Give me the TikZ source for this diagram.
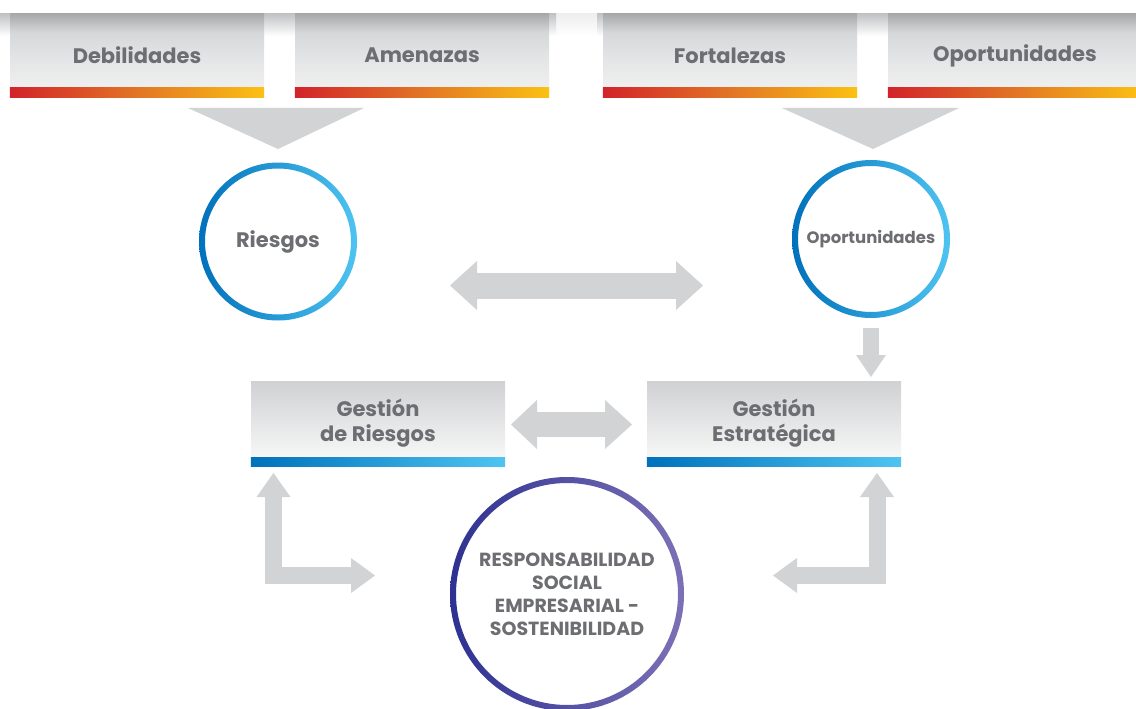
\documentclass[tikz,border=0pt]{standalone}
\usepackage{fontspec}
\setmainfont{Poppins}
\usetikzlibrary{arrows.meta,calc}
\definecolor{txt}{HTML}{6D6E71}
\definecolor{arr}{HTML}{D1D3D4}
\definecolor{red1}{HTML}{D2232A}
\definecolor{org1}{HTML}{E27525}
\definecolor{yel1}{HTML}{FBC113}
\definecolor{blu1}{HTML}{0071BB}
\definecolor{blu2}{HTML}{4FC4F1}
\definecolor{pur1}{HTML}{2E3192}
\definecolor{pur2}{HTML}{7C71B6}
\definecolor{tb0}{HTML}{F3F3F3}
\definecolor{tb1}{HTML}{E3E4E5}
\definecolor{tb2}{HTML}{D6D7D8}
\definecolor{tb3}{HTML}{A8A9AB}
\definecolor{sh1}{HTML}{C2C3C5}
\definecolor{sh2}{HTML}{EEEEEE}
\definecolor{lb0}{HTML}{FBFBFB}
\definecolor{lb1}{HTML}{D0D1D3}
\pgfdeclareverticalshading{topboxshade}{100bp}{color(0bp)=(tb0);color(25bp)=(tb0);color(49bp)=(tb1);color(64bp)=(tb2);color(75bp)=(tb3);color(100bp)=(tb3)}
\pgfdeclareverticalshading{shadowband}{100bp}{color(0bp)=(white);color(25bp)=(white);color(75bp)=(sh1);color(100bp)=(sh1)}
\pgfdeclareverticalshading{faintband}{100bp}{color(0bp)=(white);color(25bp)=(white);color(75bp)=(sh2);color(100bp)=(sh2)}
\begin{document}
\begin{tikzpicture}[x=1pt,y=-1pt,text=txt,
  topbox/.style={minimum width=254pt,minimum height=83pt,inner sep=0pt,shading=topboxshade,
    font=\fontsize{21}{25}\bfseries\selectfont},
  lowbox/.style={minimum width=254pt,minimum height=85pt,inner sep=0pt,top color=lb1,bottom color=lb0,
    align=center,font=\fontsize{21}{25}\bfseries\selectfont},
  warmbar/.style={left color=red1,right color=yel1,middle color=org1},
  coolbar/.style={left color=blu1,right color=blu2},
  ring/.style={circle,fill=white,inner sep=0pt,align=center},
  blk/.style={draw=arr},
]
\useasboundingbox (0,0) rectangle (1136,709);
\fill[white] (0,0) rectangle (1136,709);
% shadow bands above top boxes
\shade[shading=faintband] (0,14) rectangle (1136,36);
\shade[shading=shadowband] (0,14) rectangle (556,36);
\shade[shading=shadowband] (597,14) rectangle (1136,36);
% top boxes
\node[topbox] (deb) at (137,55.5) {Debilidades};
\node[topbox] (ame) at (422,55.5) {Amenazas};
\node[topbox] (fort) at (730,55.5) {Fortalezas};
\node[topbox] (opt) at (1015,55.5) {Oportunidades};
\foreach \n in {deb,ame,fort,opt}{
  \shade[warmbar] ([yshift=10pt]\n.south west) rectangle (\n.south east);
}
% triangles
\fill[arr] (188,108) -- (364,108) -- (278,149) -- cycle;
\fill[arr] (782,108) -- (959,108) -- (873,149) -- cycle;
% circles
\node[ring,minimum size=146pt,font=\fontsize{21}{25}\bfseries\selectfont] (rie) at (278,241.5) {Riesgos};
\node[ring,minimum size=146pt,font=\fontsize{16.5}{20}\bfseries\selectfont] (opc) at (871,239) {Oportunidades};
\shade[left color=blu1,right color=blu2,even odd rule] (rie.center) circle (79pt) (rie.center) circle (73pt);
\shade[left color=blu1,right color=blu2,even odd rule] (opc.center) circle (79pt) (opc.center) circle (73pt);
% lower boxes
\node[lowbox] (gr) at (378,423.5) {Gestión\\de Riesgos};
\node[lowbox] (ge) at (774,423.5) {Gestión\\Estratégica};
\foreach \n in {gr,ge}{
  \shade[coolbar] ([yshift=9pt]\n.south west) rectangle (\n.south east);
}
% RSE circle
\node[ring,minimum size=222pt,font=\fontsize{19}{23}\bfseries\selectfont] (rse) at (567,594) {RESPONSABILIDAD\\SOCIAL\\EMPRESARIAL -\\SOSTENIBILIDAD};
\shade[left color=pur1,right color=pur2,even odd rule] (rse.center) circle (117pt) (rse.center) circle (111pt);
% connector end points
\coordinate (a1) at (450,285.5);
\coordinate (a2) at (703,285.5);
\coordinate (b1) at (511,424.5);
\coordinate (b2) at (632,424.5);
\coordinate (c1) at (871,328);
\coordinate (c2) at (871,377);
\coordinate (l1) at (273.5,473);
\coordinate (l2) at (375,575.5);
\coordinate (r1) at (877,473);
\coordinate (r2) at (773,575.5);
% block arrows
\draw[blk,line width=26pt,{Triangle[length=27pt,width=49pt,line width=0pt]}-{Triangle[length=27pt,width=49pt,line width=0pt]}] (a1) -- (a2);
\draw[blk,line width=25pt,{Triangle[length=26pt,width=49pt,line width=0pt]}-{Triangle[length=27pt,width=49pt,line width=0pt]}] (b1) -- (b2);
\draw[blk,line width=16pt,-{Triangle[length=22pt,width=30pt,line width=0pt]}] (c1) -- (c2);
\draw[blk,line width=17pt,{Triangle[length=24pt,width=34pt,line width=0pt]}-{Triangle[length=24pt,width=35pt,line width=0pt]}] (l1) |- (l2);
\draw[blk,line width=17pt,{Triangle[length=24pt,width=34pt,line width=0pt]}-{Triangle[length=24pt,width=35pt,line width=0pt]}] (r1) |- (r2);
\end{tikzpicture}
\end{document}
